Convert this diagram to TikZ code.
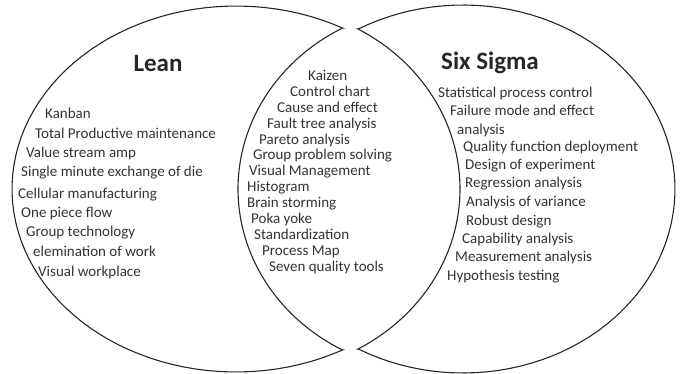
\documentclass[tikz,border=0pt]{standalone}
\usepackage{fontspec}
\setmainfont{Carlito}
\begin{document}
\begin{tikzpicture}[x=1pt, y=-1pt,
  crescent/.style={draw=black!85, line width=1.1pt, line join=miter},
  title/.style={font=\fontsize{25}{30}\selectfont\bfseries, text=black!85},
  item/.style={anchor=west, inner sep=0pt, text=black!80,
    font=\fontsize{15}{18}\selectfont, text height=10pt, text depth=3pt}] % {{{
\useasboundingbox (0,0) rectangle (688,373);
% Crescents   {{{
\draw[crescent] plot[domain=61.6:298.4, samples=80] ({236+224*cos(\x)},{189+183*sin(\x)})
  -- plot[domain=241.6:118.4, samples=60] ({437.2+199.2*cos(\x)},{189+183*sin(\x)}) -- cycle;
\draw[crescent] plot[domain=240.4:479.6, samples=80] ({463+212*cos(\x)},{189+184*sin(\x)})
  -- plot[domain=60.4:-60.4, samples=60] ({258.5+201.5*cos(\x)},{189+184*sin(\x)}) -- cycle;
% }}}
% Lean   {{{
\node[title] (lean) at (158,63) {Lean};
\node[item] (lean1) at (45,115) {Kanban};
\node[item] (lean2) at (35,135) {Total Productive maintenance};
\node[item] (lean3) at (26,154) {Value stream amp};
\node[item] (lean4) at (21,173) {Single minute exchange of die};
\node[item] (lean5) at (18,195) {Cellular manufacturing};
\node[item] (lean6) at (21,214) {One piece flow};
\node[item] (lean7) at (26,233) {Group technology};
\node[item] (lean8) at (33,253) {elemination of work};
\node[item] (lean9) at (38,273) {Visual workplace};
% }}}
% Both   {{{
\node[item] (both1) at (308,77) {Kaizen};
\node[item] (both2) at (290,93) {Control chart};
\node[item] (both3) at (277,109) {Cause and effect};
\node[item] (both4) at (267,125) {Fault tree analysis};
\node[item] (both5) at (259,141) {Pareto analysis};
\node[item] (both6) at (253,156) {Group problem solving};
\node[item] (both7) at (249,172) {Visual Management};
\node[item] (both8) at (247,188) {Histogram};
\node[item] (both9) at (247,204) {Brain storming};
\node[item] (both10) at (251,220) {Poka yoke};
\node[item] (both11) at (254,236) {Standardization};
\node[item] (both12) at (262,252) {Process Map};
\node[item] (both13) at (269,268) {Seven quality tools};
% }}}
% Six Sigma   {{{
\node[title] (sigma) at (490,63) {Six Sigma};
\node[item] (sigma1) at (438,94) {Statistical process control};
\node[item] (sigma2) at (450,112) {Failure mode and effect};
\node[item] (sigma3) at (457,131) {analysis};
\node[item] (sigma4) at (463,148) {Quality function deployment};
\node[item] (sigma5) at (465,166) {Design of experiment};
\node[item] (sigma6) at (465,184) {Regression analysis};
\node[item] (sigma7) at (466,203) {Analysis of variance};
\node[item] (sigma8) at (466,222) {Robust design};
\node[item] (sigma9) at (462,240) {Capability analysis};
\node[item] (sigma10) at (455,258) {Measurement analysis};
\node[item] (sigma11) at (447,277) {Hypothesis testing};
% }}}
\end{tikzpicture}
\end{document}
